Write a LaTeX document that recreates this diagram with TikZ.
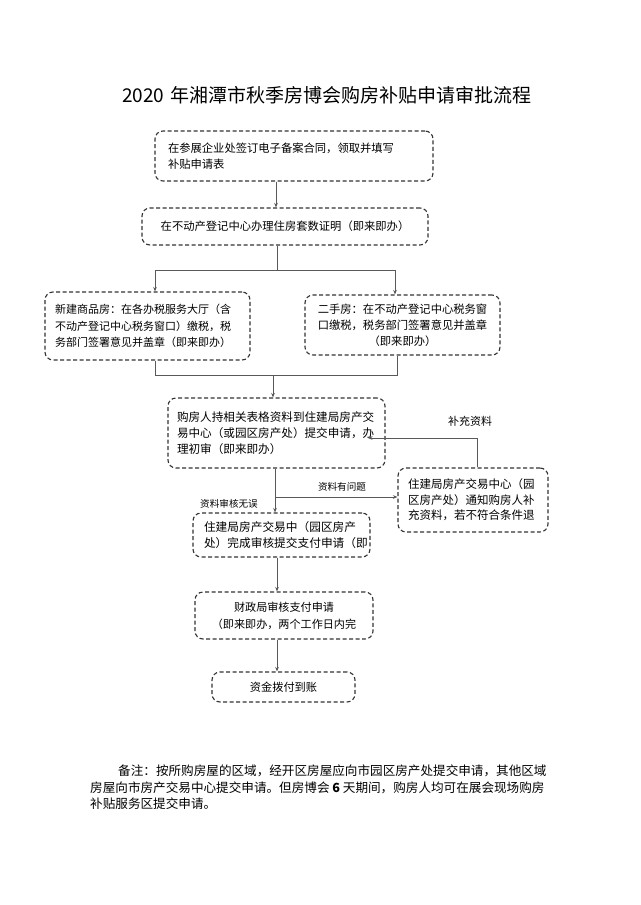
\documentclass[tikz,border=0pt]{standalone}
\usepackage{fontspec}
\setmainfont{Noto Sans CJK SC}
\usetikzlibrary{arrows.meta,calc}
\tikzset{
  box/.style={draw=black!80, line width=1.1pt, dash pattern=on 4pt off 2.5pt,
    rounded corners=8pt, inner ysep=0pt, font=\fontsize{11.3}{16}\selectfont},
  conn/.style={draw=black!65, line width=0.9pt},
  arr/.style={conn, -{Stealth[length=4.5pt,width=3.6pt]}},
  lbl/.style={font=\fontsize{9.6}{12}\selectfont, inner sep=0pt},
}
\begin{document}
\begin{tikzpicture}[x=1pt,y=1pt]
\useasboundingbox (0,0) rectangle (640,-905);
\fill[white] (0,0) rectangle (640,-905);

\node[font=\fontsize{19}{22}\selectfont, inner sep=0pt] (title) at (327,-95) {2020\hspace{2pt} 年湘潭市秋季房博会购房补贴申请审批流程};

\node[box, minimum height=50pt, text width=252pt, inner xsep=13pt, align=left] (A) at (294,-156)
  {在参展企业处签订电子备案合同，领取并填写\\补贴申请表};
\node[box, minimum height=37pt, text width=266pt, inner xsep=10pt, align=center] (B) at (285,-226.5)
  {在不动产登记中心办理住房套数证明（即来即办）};
\node[box, minimum height=68pt, text width=185pt, inner xsep=10pt, align=left, font=\fontsize{11}{16.5}\selectfont] (C) at (147.5,-326)
  {新建商品房：在各办税服务大厅（含\\不动产登记中心税务窗口）缴税，税\\务部门签署意见并盖章（即来即办）};
\node[box, minimum height=60pt, text width=175pt, inner xsep=10pt, align=center] (D) at (402.5,-325)
  {二手房：在不动产登记中心税务窗\\口缴税，税务部门签署意见并盖章\\（即来即办）};
\node[box, minimum height=70pt, text width=199pt, inner xsep=9pt, align=left, font=\fontsize{11.6}{16}\selectfont] (E) at (276.5,-433)
  {购房人持相关表格资料到住建局房产交\\易中心（或园区房产处）提交申请，办\\理初审（即来即办）};
\node[box, minimum height=64pt, text width=130pt, inner xsep=10pt, align=left, font=\fontsize{11.5}{15.5}\selectfont] (F) at (473,-500)
  {住建局房产交易中心（园\\区房产处）通知购房人补\\充资料，若不符合条件退};
\node[box, minimum height=44pt, text width=155pt, inner xsep=11pt, align=left, font=\fontsize{11.7}{16}\selectfont] (G) at (281.5,-535)
  {住建局房产交易中（园区房产\\处）完成审核提交支付申请（即};
\node[box, minimum height=47pt, text width=158pt, inner xsep=10pt, align=center, font=\fontsize{11.1}{17}\selectfont] (H) at (284,-615.5)
  {财政局审核支付申请\\（即来即办，两个工作日内完};
\node[box, minimum height=30pt, text width=123pt, inner xsep=10pt, align=center, font=\fontsize{11.2}{16}\selectfont] (I) at (283.5,-687)
  {资金拨付到账};

% connectors
\coordinate (sp) at (276,0);
\draw[arr] (A.south -| sp) -- (B.north -| sp);
\coordinate (j1) at (277,-270);
\coordinate (jl) at (155,-270);
\coordinate (jr) at (395,-270);
\draw[conn] (B.south -| j1) -- (j1);
\draw[conn] (jl) -- (jr);
\draw[arr] (jl) -- (C.north -| jl);
\draw[arr] (jr) -- (D.north -| jr);
\coordinate (ml) at (155,-375);
\coordinate (mr) at (397,-375);
\coordinate (mm) at (273,-375);
\draw[conn] (C.south -| ml) -- (ml) -- (mr) -- (D.south -| mr);
\draw[arr] (mm) -- (E.north -| mm);
\coordinate (s2) at (275,0);
\draw[arr] (E.south -| s2) -- (G.north -| s2);
\coordinate (br) at (275,-497);
\draw[arr] (br) -- (F.west |- br);
\coordinate (fb) at (477,-438);
\coordinate (eb) at (368,-438);
\draw[arr] (F.north -| fb) -- (fb) -- (eb);
\coordinate (s3) at (277,0);
\draw[arr] (G.south -| s3) -- (H.north -| s3);
\draw[arr] (H.south -| s3) -- (I.north -| s3);

% labels
\node[lbl, font=\fontsize{11}{13}\selectfont] (l1) at (470,-421) {补充资料};
\node[lbl] (l2) at (342,-487) {资料有问题};
\node[lbl] (l3) at (229,-504) {资料审核无误};

% note
\node[anchor=north west, inner sep=0pt, align=left, font=\fontsize{12.6}{16.5}\selectfont] (note) at (90,-765)
  {\hspace*{28pt}备注：按所购房屋的区域，经开区房屋应向市园区房产处提交申请，其他区域\\房屋向市房产交易中心提交申请。但房博会 \textbf{6} 天期间，购房人均可在展会现场购房\\补贴服务区提交申请。};
\end{tikzpicture}
\end{document}
